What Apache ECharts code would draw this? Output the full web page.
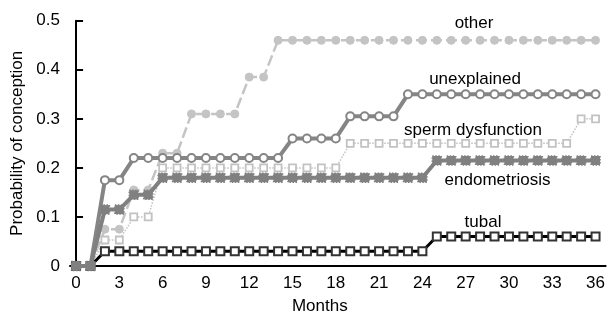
<!DOCTYPE html>
<html>
<head>
<meta charset="utf-8">
<script src="https://cdn.jsdelivr.net/npm/echarts@6/dist/echarts.min.js"></script>
<style>
html,body{margin:0;padding:0;background:#fff;}
#chart{width:608px;height:320px;}
</style>
</head>
<body>
<div id="chart"></div>
<script>
// Months 0..36
const months = Array.from({length: 37}, (_, i) => i);
const xTicks = [0, 3, 6, 9, 12, 15, 18, 21, 24, 27, 30, 33, 36];
const yTicks = [0, 0.1, 0.2, 0.3, 0.4, 0.5];

const otherVals = [0,0,0.075,0.075,0.155,0.155,0.23,0.23,0.31,0.31,0.31,0.31,0.385,0.385,
  0.46,0.46,0.46,0.46,0.46,0.46,0.46,0.46,0.46,0.46,0.46,0.46,0.46,0.46,0.46,0.46,0.46,0.46,0.46,0.46,0.46,0.46,0.46];
const unexplainedVals = [0,0,0.175,0.175,0.22,0.22,0.22,0.22,0.22,0.22,0.22,0.22,0.22,0.22,0.22,
  0.26,0.26,0.26,0.26,0.305,0.305,0.305,0.305,
  0.35,0.35,0.35,0.35,0.35,0.35,0.35,0.35,0.35,0.35,0.35,0.35,0.35,0.35];
const spermVals = [0,0,0.053,0.053,0.1,0.1,0.2,0.2,0.2,0.2,0.2,0.2,0.2,0.2,0.2,0.2,0.2,0.2,0.2,
  0.25,0.25,0.25,0.25,0.25,0.25,0.25,0.25,0.25,0.25,0.25,0.25,0.25,0.25,0.25,0.25,0.3,0.3];
const endoVals = [0,0,0.115,0.115,0.145,0.145,0.18,0.18,0.18,0.18,0.18,0.18,0.18,0.18,0.18,0.18,0.18,0.18,0.18,
  0.18,0.18,0.18,0.18,0.18,0.18,0.215,0.215,0.215,0.215,0.215,0.215,0.215,0.215,0.215,0.215,0.215,0.215];
const tubalVals = [0,0,0.03,0.03,0.03,0.03,0.03,0.03,0.03,0.03,0.03,0.03,0.03,0.03,0.03,0.03,0.03,0.03,0.03,
  0.03,0.03,0.03,0.03,0.03,0.03,0.06,0.06,0.06,0.06,0.06,0.06,0.06,0.06,0.06,0.06,0.06,0.06];

const labelNames = ['other', 'unexplained', 'sperm dysfunction', 'endometriosis', 'tubal'];

const pair = vals => months.map((m, i) => [m, vals[i]]);
const FONT = 'Liberation Sans, Arial, Helvetica, sans-serif';

const chart = echarts.init(document.getElementById('chart'), null, {renderer: 'canvas'});

const labelPos = [[474, 23], [475, 79], [473, 130.5], [497.5, 180.5], [483, 222]];

chart.setOption({
  animation: false,
  backgroundColor: '#fff',
  grid: {left: 70, right: 0, top: 20.7, bottom: 49.3},
  xAxis: {
    type: 'value',
    min: -0.42,
    max: 36.7,
    name: 'Months',
    nameLocation: 'middle',
    nameGap: 32,
    nameTextStyle: {fontFamily: FONT, fontSize: 17, color: '#000', padding: [0, 36, 0, 0]},
    axisLine: {lineStyle: {color: '#000', width: 2}},
    axisTick: {show: false},
    splitLine: {show: false},
    axisLabel: {
      customValues: xTicks,
      fontFamily: FONT, fontSize: 17, color: '#000', margin: 9
    }
  },
  yAxis: {
    type: 'value',
    min: 0,
    max: 0.5,
    interval: 0.1,
    name: 'Probability of conception',
    nameLocation: 'middle',
    nameGap: 40,
    nameTextStyle: {fontFamily: FONT, fontSize: 17, color: '#000'},
    axisLine: {show: true, lineStyle: {color: '#000', width: 2}},
    axisTick: {show: true, inside: true, length: 7, lineStyle: {color: '#000', width: 2}},
    splitLine: {show: false},
    axisLabel: {
      customValues: yTicks,
      fontFamily: FONT, fontSize: 17, color: '#000', margin: 10,
      formatter: v => (v === 0 ? '0' : v.toFixed(1))
    }
  },
  graphic: labelNames.map((t, i) => ({
    type: 'text',
    x: labelPos[i][0],
    y: labelPos[i][1],
    style: {text: t, fontFamily: FONT, fontSize: 17, fill: '#000', textAlign: 'center', textVerticalAlign: 'middle'},
    z: 100
  })),
  series: [
    {
      name: 'other', type: 'line', data: pair(otherVals),
      symbol: 'circle', symbolSize: 8, showAllSymbol: true,
      lineStyle: {color: '#c4c4c4', width: 2.5, type: [11, 4]},
      itemStyle: {color: '#c4c4c4', borderColor: '#c4c4c4', borderWidth: 1},
      z: 2
    },
    {
      name: 'sperm dysfunction', type: 'line', data: pair(spermVals),
      symbol: 'rect', symbolSize: 7, showAllSymbol: true,
      lineStyle: {color: '#c2c2c2', width: 1.5, type: 'dotted'},
      itemStyle: {color: '#fff', borderColor: '#c2c2c2', borderWidth: 1.8},
      z: 3
    },
    {
      name: 'tubal', type: 'line', data: pair(tubalVals),
      symbol: 'rect', symbolSize: 8, showAllSymbol: true,
      lineStyle: {color: '#000', width: 3},
      itemStyle: {color: '#fff', borderColor: '#333', borderWidth: 2},
      z: 4
    },
    {
      name: 'unexplained', type: 'line', data: pair(unexplainedVals),
      symbol: 'circle', symbolSize: 8, showAllSymbol: true,
      lineStyle: {color: '#858585', width: 4},
      itemStyle: {color: '#fff', borderColor: '#858585', borderWidth: 2},
      z: 5
    },
    {
      name: 'endometriosis', type: 'line', data: pair(endoVals),
      symbol: 'rect', symbolSize: 9, showAllSymbol: true,
      lineStyle: {color: '#808080', width: 4},
      itemStyle: {color: '#808080', borderColor: '#808080', borderWidth: 1.5, borderType: 'dotted'},
      z: 6
    }
  ]
});
</script>
</body>
</html>
